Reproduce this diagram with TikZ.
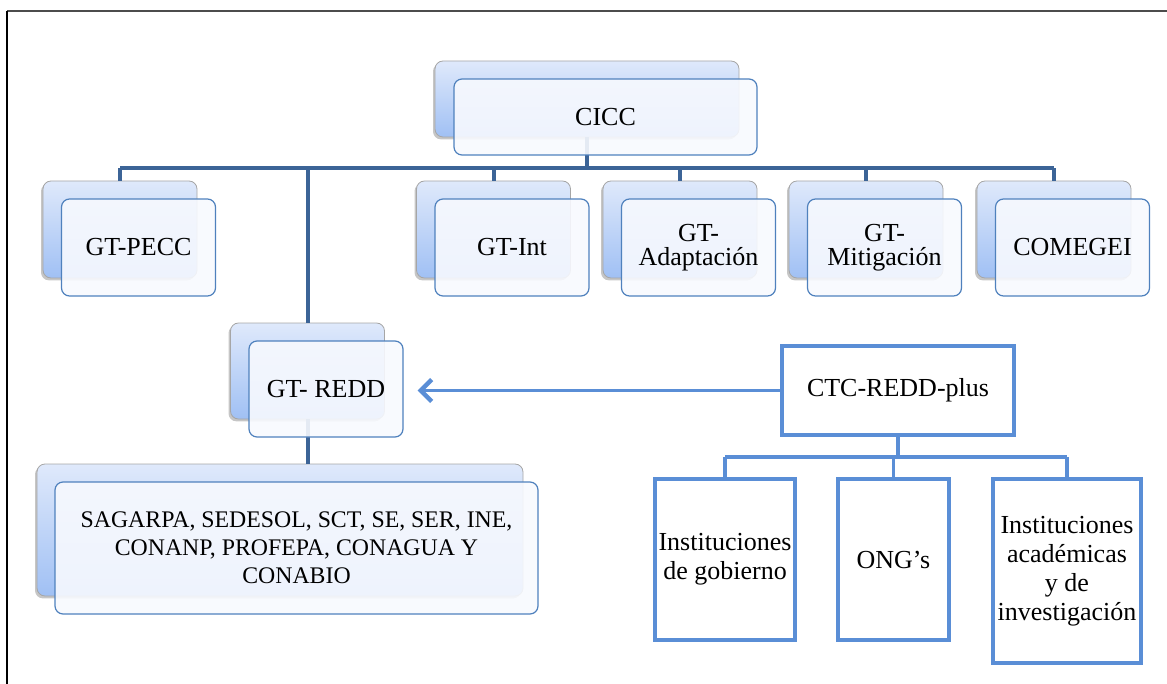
\documentclass[tikz,border=0pt]{standalone}
\usepackage{fontspec}
\setmainfont{Liberation Serif}
\usetikzlibrary{positioning,shadows,arrows.meta}
\definecolor{busblue}{HTML}{3C6497}
\definecolor{lineblue}{HTML}{5A8ED6}
\definecolor{boxedge}{HTML}{4F81BD}
\definecolor{shadetop}{HTML}{DFE9FB}
\definecolor{shadebot}{HTML}{A0C0F4}
\definecolor{frontfill}{HTML}{F7F9FE}
\begin{document}
\begin{tikzpicture}[x=0.5pt, y=-0.5pt,
    font=\fontsize{13}{14.5}\selectfont,
    backbox/.style={rounded corners=4pt, draw=gray!70, line width=0.4pt,
      top color=shadetop, bottom color=shadebot,
      drop shadow={shadow xshift=-1pt, shadow yshift=-1.2pt, opacity=0.45, fill=gray}},
    frontbox/.style={rounded corners=4pt, draw=boxedge, line width=0.6pt,
      preaction={fill=frontfill, fill opacity=0.9}, align=center, inner sep=0pt},
    unitbox/.style={minimum width=77pt, minimum height=48.5pt},
    twoline/.style={font=\fontsize{13}{12}\selectfont},
    bus/.style={draw=busblue, line width=2pt},
    plainbox/.style={draw=lineblue, line width=1.8pt, align=center, inner sep=0pt},
    link/.style={draw=lineblue, line width=1.6pt}
  ]
    \useasboundingbox (0,0) rectangle (1167,684);

    % Frame
    \draw[gray!60!black, line width=0.8pt] (7,11) -- (1167,11);
    \draw[black, line width=0.8pt] (7,11) -- (7,684);

    % Back boxes
    \node[backbox, minimum width=152pt, minimum height=38pt] (ciccB) at (587,99) {};
    \node[backbox, unitbox] (peccB) at (120,229.5) {};
    \node[backbox, unitbox] (intB) at (493.5,229.5) {};
    \node[backbox, unitbox] (adapB) at (680,229.5) {};
    \node[backbox, unitbox] (mitiB) at (866,229.5) {};
    \node[backbox, unitbox] (comeB) at (1054,229.5) {};
    \node[backbox, unitbox, minimum height=48pt] (reddB) at (307.5,371) {};
    \node[backbox, minimum width=243pt, minimum height=66pt] (instB) at (280,530) {};

    % Bus under CICC
    \coordinate (busY) at (0,168);
    \draw[bus] (ciccB.south) -- (ciccB.south |- busY);
    \draw[bus] (peccB.north |- busY) -- (comeB.north |- busY);
    \foreach \b in {peccB,reddB,intB,adapB,mitiB,comeB}
      \draw[bus] (\b.north) -- (\b.north |- busY);
    \draw[bus] (reddB.south) -- (reddB.south |- instB.north);

    % Front boxes
    \node[frontbox, minimum width=151.5pt, minimum height=38pt] (cicc) at ([shift={(18.5,18)}]ciccB) {CICC};
    \node[frontbox, unitbox] (pecc) at ([shift={(18.5,18)}]peccB) {GT-PECC};
    \node[frontbox, unitbox] (int) at ([shift={(18.5,18)}]intB) {GT-Int};
    \node[frontbox, unitbox, twoline] (adap) at ([shift={(18.5,18)}]adapB) {GT-\\Adaptación};
    \node[frontbox, unitbox, twoline] (miti) at ([shift={(18.5,18)}]mitiB) {GT-\\Mitigación};
    \node[frontbox, unitbox] (come) at ([shift={(18.5,18)}]comeB) {COMEGEI};
    \node[frontbox, unitbox, minimum height=48pt] (redd) at ([shift={(18.5,18)}]reddB) {GT- REDD};
    \node[frontbox, minimum width=241.5pt, minimum height=66pt, font=\fontsize{11.9}{14}\selectfont]
      (inst) at ([shift={(16.5,18)}]instB)
      {SAGARPA, SEDESOL, SCT, SE, SER, INE,\\CONANP, PROFEPA, CONAGUA Y\\CONABIO};

    % CTC-REDD-plus branch
    \node[plainbox, minimum width=116pt, minimum height=44.5pt] (ctc) at (898,390.5) {CTC-REDD-plus};
    \node[plainbox, minimum width=70pt, minimum height=80.5pt] (gob) at (725,559.5) {Instituciones\\de gobierno};
    \node[plainbox, minimum width=55.5pt, minimum height=80.5pt] (ong) at (893.5,559.5) {ONG’s};
    \node[plainbox, minimum width=74pt, minimum height=92pt] (acad) at (1067,571) {Instituciones\\académicas\\y de\\investigación};

    \coordinate (subY) at (0,457);
    \draw[link] (ctc.south) -- (ctc.south |- subY);
    \draw[link] (gob.north |- subY) -- (acad.north |- subY);
    \foreach \b in {gob,ong,acad}
      \draw[link] (\b.north) -- (\b.north |- subY);

    % Arrow to GT- REDD
    \draw[link, -{Straight Barb[length=5.5pt, width=11pt, line width=2.2pt]}, shorten >=7pt] (ctc.west) -- (ctc.west -| redd.east);
\end{tikzpicture}
\end{document}
